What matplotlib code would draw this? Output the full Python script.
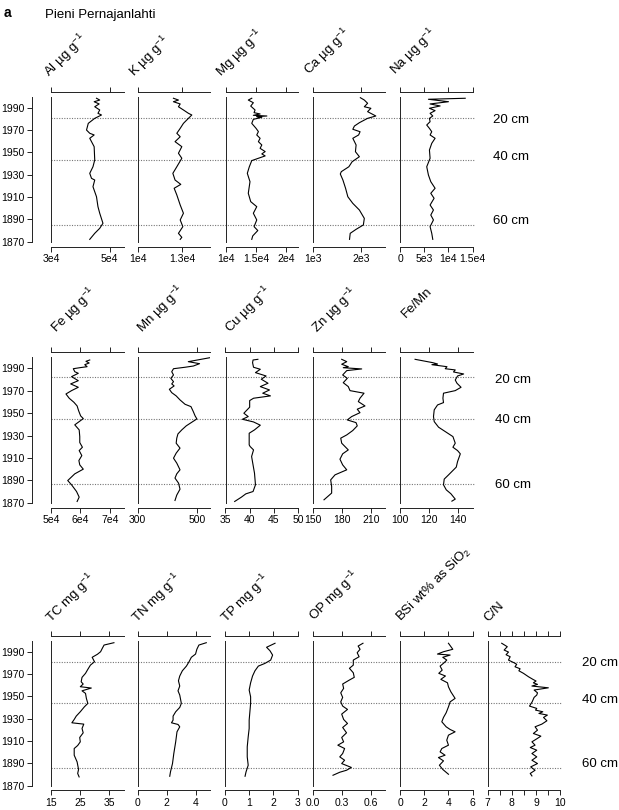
import matplotlib
matplotlib.use('Agg')
import matplotlib.pyplot as plt

plt.rcParams['font.family'] = ['Liberation Sans', 'DejaVu Sans']
plt.rcParams['mathtext.fontset'] = 'custom'
plt.rcParams['mathtext.rm'] = 'Liberation Sans'
plt.rcParams['mathtext.it'] = 'Liberation Sans:italic'
plt.rcParams['mathtext.bf'] = 'Liberation Sans:bold'

# ---------------- data ----------------
YEAR_TICKS = [1870, 1890, 1910, 1930, 1950, 1970, 1990]
DEPTH_LABELS = ['20 cm', '40 cm', '60 cm']
DEPTH_YEARS_R1 = [1981.2, 1943.3, 1885.0]
DEPTH_YEARS_R2 = [1982.1, 1944.9, 1886.9]
DEPTH_YEARS_R3 = [1981.1, 1943.7, 1885.3]

AL_YEARS = [1998.6, 1997.0, 1995.5, 1993.5, 1991.0, 1988.1, 1985.1, 1983.6, 1980.6, 1976.1, 1970.1, 1967.2, 1965.7, 1962.7,
            1955.2, 1943.3, 1937.2, 1931.3, 1926.8, 1925.3, 1919.3, 1910.3, 1901.4, 1895.5, 1886.5, 1882.0, 1877.5, 1872.1]
AL = [45500, 46600, 44700, 46400, 44900, 46600, 46000, 47200, 44900, 42700, 42100, 43200, 44700, 43200,
      44700, 44900, 44300, 43200, 43800, 44900, 44300, 45500, 46000, 46600, 47700, 46600, 44900, 43200]

K_YEARS = [1998.6, 1997.0, 1995.5, 1993.5, 1991.0, 1988.1, 1985.1, 1983.6, 1980.6, 1976.1, 1971.6, 1967.2, 1964.1, 1959.7,
           1955.2, 1949.3, 1944.8, 1937.2, 1931.3, 1925.3, 1921.4, 1917.9, 1911.9, 1902.9, 1895.5, 1889.5, 1883.5, 1877.5,
           1873.9, 1872.1]
K = [12430, 12770, 12430, 12890, 12770, 13110, 13450, 13680, 13450, 13110, 12890, 12660, 12890, 12540,
     13000, 12770, 13000, 12660, 12390, 12540, 12930, 12480, 12660, 12890, 13110, 12890, 13070, 12770, 13000, 12890]

MG_YEARS = [1998.6, 1997.0, 1994.6, 1991.6, 1988.1, 1985.7, 1984.5, 1983.3, 1982.7, 1982.1, 1981.5, 1979.7, 1976.1, 1971.6,
            1968.7, 1965.7, 1962.7, 1959.7, 1956.7, 1953.7, 1950.8, 1948.7, 1946.9, 1944.8, 1942.7, 1937.2, 1931.3, 1923.8,
            1913.4, 1905.9, 1901.4, 1895.5, 1889.5, 1883.5, 1880.0, 1875.2, 1872.1]
MG = [14310, 13740, 14570, 14140, 14850, 14690, 15680, 14570, 16790, 15130, 15960, 14570, 14310, 15020,
      15400, 15130, 15680, 15400, 15960, 15680, 16510, 15960, 16510, 15400, 14310, 13910, 13580, 14020,
      13740, 14140, 15130, 14570, 15130, 14690, 15300, 14470, 14310]

CA_YEARS = [1999.1, 1997.0, 1994.1, 1991.0, 1989.6, 1986.6, 1982.7, 1980.6, 1976.7, 1973.7, 1970.8, 1968.6, 1965.7, 1962.7,
            1956.7, 1950.7, 1946.2, 1941.7, 1937.2, 1932.8, 1930.7, 1925.3, 1917.9, 1910.3, 1904.4, 1898.4, 1890.9, 1885.0,
            1881.1, 1877.5, 1872.1]
CA = [1986, 2068, 2136, 2068, 2204, 2136, 2306, 2136, 1966, 1863, 1830, 1980, 1950, 1830,
      1898, 1884, 1966, 1816, 1748, 1592, 1571, 1625, 1680, 1727, 1829, 1966, 2068, 2048, 1898, 1776, 1762]

NA_YEARS = [1998.6, 1997.7, 1995.5, 1993.5, 1991.7, 1989.6, 1987.5, 1985.1, 1982.7, 1980.6, 1977.6, 1974.6, 1971.6, 1968.6,
            1965.7, 1962.7, 1958.2, 1952.2, 1944.8, 1937.2, 1929.8, 1923.8, 1917.9, 1913.4, 1908.9, 1902.9, 1898.4, 1893.9,
            1889.5, 1883.5, 1877.5, 1872.1]
NA = [13490, 5880, 10030, 6225, 8300, 6090, 7260, 6225, 6780, 6090, 6225, 5530, 6090, 6570,
      6225, 7260, 6570, 6090, 6225, 5530, 5880, 6370, 7260, 6370, 7055, 6225, 6920, 6370, 6920, 6225, 6570, 6780]

FE_YEARS = [1997.6, 1996.4, 1994.9, 1993.4, 1991.6, 1990.7, 1989.8, 1987.1, 1985.7, 1982.7, 1979.1, 1976.2, 1973.2, 1970.2,
            1967.2, 1963.4, 1959.8, 1956.5, 1952.3, 1947.6, 1945.2, 1942.5, 1939.6, 1935.1, 1929.1, 1923.8, 1919.6, 1916.6,
            1912.1, 1907.7, 1903.8, 1900.0, 1895.8, 1889.8, 1886.0, 1880.0, 1875.0, 1871.1]
FE = [63200, 61900, 63000, 61500, 62300, 59800, 57600, 58100, 59300, 57000, 59300, 56700, 59300, 57000,
      55100, 56200, 57800, 58900, 59400, 60100, 61000, 59600, 58100, 59600, 59800, 59800, 60700, 59600,
      60500, 59500, 59800, 61000, 58100, 55700, 57000, 58700, 59600, 58900]

MN_YEARS = [1999.7, 1996.1, 1994.3, 1992.2, 1991.1, 1989.8, 1987.1, 1984.2, 1981.2, 1978.2, 1976.2, 1974.4, 1971.4, 1968.4,
            1965.5, 1961.9, 1958.0, 1955.9, 1951.4, 1947.6, 1944.9, 1942.5, 1938.7, 1935.1, 1931.5, 1927.7, 1923.2, 1918.8,
            1914.3, 1909.8, 1905.4, 1899.4, 1895.8, 1892.0, 1887.5, 1882.1, 1876.8, 1872.0]
MN = [545, 471, 509, 488, 460, 421, 415, 421, 412, 421, 415, 423, 407, 415,
      430, 443, 460, 480, 488, 494, 500, 486, 464, 449, 436, 432, 430, 443,
      430, 421, 432, 443, 432, 426, 438, 443, 432, 426]

CU_YEARS = [1998.2, 1997.6, 1995.2, 1991.1, 1989.3, 1986.3, 1983.3, 1980.4, 1976.8, 1973.8, 1970.8, 1967.9, 1965.5, 1963.4,
            1961.3, 1955.4, 1950.0, 1947.0, 1944.6, 1942.2, 1939.3, 1935.1, 1932.1, 1921.7, 1920.2, 1917.2, 1911.3, 1903.8,
            1896.4, 1886.0, 1880.0, 1877.9, 1875.0, 1871.1]
CU = [41.7, 40.7, 40.6, 40.8, 42.2, 41.2, 43.4, 42.4, 43.8, 42.2, 44.1, 42.7, 44.3, 40.8,
      40.0, 40.0, 38.8, 39.7, 38.5, 40.8, 42.2, 41.0, 39.9, 39.9, 40.1, 40.8, 40.4, 40.7,
      41.0, 41.2, 40.7, 39.2, 38.3, 36.9]

ZN_YEARS = [1998.2, 1996.1, 1993.8, 1991.6, 1990.7, 1989.6, 1988.1, 1984.2, 1981.2, 1977.3, 1973.8, 1970.2, 1967.9, 1963.4,
            1960.4, 1956.5, 1953.6, 1950.5, 1947.0, 1944.0, 1941.6, 1938.7, 1934.5, 1930.6, 1927.7, 1923.2, 1917.2, 1913.7,
            1908.9, 1903.8, 1899.4, 1894.9, 1890.4, 1884.5, 1878.6, 1872.6]
ZN = [180, 185.2, 180, 186.8, 181.6, 200.7, 185.2, 181, 185.8, 181.6, 186.8, 188.6, 203.1, 198.9,
      197.2, 204.1, 196.1, 198.9, 190.3, 185.8, 194.8, 196.1, 191.4, 185.2, 179, 180, 186.8, 181,
      178.2, 181, 185.2, 173.1, 168.6, 169.6, 169.6, 161.7]

FEMN_YEARS = [1998.2, 1995.2, 1994.0, 1993.4, 1991.6, 1989.8, 1988.7, 1986.9, 1985.1, 1983.3, 1979.7, 1976.8, 1973.2, 1970.2,
              1967.9, 1963.4, 1959.5, 1957.4, 1953.0, 1947.0, 1942.5, 1937.5, 1933.6, 1929.1, 1923.2, 1919.6, 1916.6, 1913.7,
              1906.8, 1901.8, 1897.9, 1894.9, 1891.1, 1886.0, 1881.5, 1878.0, 1873.2, 1871.4]
FEMN = [110.4, 122.6, 125.9, 122, 132.4, 131.2, 138.1, 136.9, 143.9, 139.7, 138.1, 139.3, 142.1, 138.1,
        130, 129.6, 130, 125.9, 123.6, 123.1, 123.6, 126.6, 131.2, 136.5, 138.1, 136.5, 139.7, 141.6,
        139.7, 138.8, 135.8, 133.5, 130.5, 130, 131.9, 135.1, 138.1, 135.8]

TC_YEARS = [1998.2, 1996.1, 1993.2, 1990.1, 1987.8, 1985.1, 1981.1, 1978.1, 1974.3, 1970.7, 1967.1, 1963.1, 1961.1, 1958.7,
            1957.5, 1955.0, 1952.7, 1948.2, 1943.7, 1940.6, 1936.2, 1932.3, 1929.3, 1926.3, 1925.1, 1921.2, 1917.3, 1913.1,
            1909.2, 1905.9, 1903.2, 1897.2, 1891.2, 1884.4, 1880.8, 1877.7]
TC = [36.7, 33.3, 32.7, 32.1, 31.0, 29.2, 30.0, 28.6, 27.7, 26.9, 25.7, 25.4, 26.1, 25.1,
      28.9, 25.7, 26.9, 27.2, 27.7, 26.5, 25.1, 23.7, 23.0, 22.2, 26.3, 25.7, 26.1, 24.9,
      25.1, 24.2, 23.0, 23.0, 24.0, 24.5, 24.2, 24.7]

TN_YEARS = [1998.2, 1996.1, 1992.3, 1988.0, 1985.1, 1981.1, 1977.2, 1973.0, 1968.3, 1964.0, 1959.3, 1955.0, 1951.2, 1943.7,
            1940.1, 1936.2, 1932.3, 1928.7, 1926.3, 1924.8, 1922.7, 1918.2, 1909.2, 1898.7, 1889.7, 1882.2, 1878.3]
TN = [4.73, 4.22, 4.08, 3.99, 3.70, 3.54, 3.36, 3.08, 2.90, 2.81, 2.90, 2.78, 2.90, 3.01,
      2.90, 2.62, 2.44, 2.44, 2.33, 2.78, 2.90, 2.71, 2.62, 2.49, 2.40, 2.26, 2.21]

TP_YEARS = [1997.7, 1994.1, 1991.0, 1987.1, 1982.6, 1979.6, 1977.2, 1973.0, 1968.3, 1962.2, 1955.7, 1949.6, 1943.7, 1936.2,
            1928.7, 1921.2, 1913.7, 1904.7, 1895.7, 1888.2, 1882.2, 1878.3]
TP = [2.07, 1.72, 1.86, 1.97, 1.89, 1.65, 1.38, 1.24, 1.14, 1.06, 1.0, 1.06, 1.06, 1.03,
      1.0, 1.0, 0.96, 0.92, 0.92, 0.96, 0.87, 0.83]

OP_YEARS = [1997.7, 1995.2, 1992.3, 1989.2, 1985.6, 1982.6, 1978.1, 1975.2, 1971.2, 1967.1, 1964.7, 1961.1, 1957.2, 1953.2,
            1949.1, 1945.1, 1941.3, 1938.3, 1934.1, 1929.3, 1925.7, 1922.1, 1917.3, 1913.1, 1909.2, 1906.2, 1903.2, 1898.7,
            1895.7, 1892.7, 1889.7, 1886.2, 1883.7, 1881.9, 1879.2]
OP = [0.52, 0.47, 0.49, 0.46, 0.48, 0.42, 0.42, 0.38, 0.42, 0.43, 0.38, 0.31, 0.32, 0.29,
      0.31, 0.29, 0.31, 0.36, 0.30, 0.32, 0.36, 0.31, 0.35, 0.30, 0.32, 0.26, 0.33, 0.31,
      0.28, 0.33, 0.30, 0.40, 0.35, 0.28, 0.21]

BSI_YEARS = [1997.7, 1992.3, 1990.1, 1988.0, 1987.1, 1985.1, 1982.6, 1980.2, 1977.2, 1973.6, 1970.7, 1968.3, 1965.3, 1962.2,
             1958.6, 1954.1, 1948.2, 1945.1, 1940.6, 1935.3, 1931.1, 1927.2, 1922.7, 1920.3, 1918.2, 1915.2, 1910.7, 1906.2,
             1903.2, 1900.2, 1897.2, 1895.1, 1892.1, 1888.2, 1884.4, 1880.1]
BSI = [4.01, 4.37, 3.60, 3.10, 4.15, 3.54, 3.87, 3.65, 3.32, 3.49, 3.21, 3.76, 3.38, 3.93,
       4.01, 4.21, 4.56, 4.15, 4.01, 3.82, 3.60, 3.46, 3.82, 4.15, 4.56, 4.01, 3.87, 4.01,
       3.46, 3.32, 3.73, 3.18, 3.60, 3.26, 3.54, 4.01]

CN_YEARS = [1997.7, 1994.6, 1991.6, 1989.8, 1987.4, 1985.6, 1982.6, 1980.2, 1978.8, 1976.6, 1974.8, 1973.0, 1970.7, 1967.6,
            1965.3, 1963.8, 1962.2, 1960.8, 1959.3, 1957.7, 1955.7, 1953.2, 1951.2, 1949.1, 1945.1, 1941.3, 1939.2, 1937.7,
            1936.2, 1934.7, 1933.2, 1931.1, 1928.1, 1925.1, 1922.7, 1919.7, 1916.7, 1914.3, 1911.9, 1909.2, 1906.2, 1904.1,
            1901.7, 1898.7, 1895.7, 1892.7, 1889.7, 1886.7, 1883.7, 1880.8, 1878.6]
CN = [7.58, 7.81, 7.68, 7.86, 7.76, 7.93, 7.86, 8.09, 8.20, 8.13, 8.34, 8.29, 8.48, 8.69,
      8.87, 9.00, 8.89, 9.06, 8.83, 9.51, 8.92, 9.06, 9.03, 8.92, 8.84, 8.73, 9.03, 8.98,
      9.28, 9.12, 9.47, 9.31, 9.45, 9.24, 8.96, 9.06, 8.89, 9.20, 9.03, 8.83, 8.96, 8.76,
      9.03, 8.83, 9.03, 8.83, 9.06, 8.78, 8.96, 8.76, 8.83]

UG = r' µg g$^{-1}$'
MG_ = r' mg g$^{-1}$'
ROW1 = [
    ('Al' + UG, AL_YEARS, AL, (3e4, 5.47e4), [3e4, 5e4], ['3e4', '5e4']),
    ('K' + UG, K_YEARS, K, (1e4, 1.493e4), [1e4, 1.3e4], ['1e4', '1.3e4']),
    ('Mg' + UG, MG_YEARS, MG, (1e4, 2.19e4), [1e4, 1.5e4, 2e4], ['1e4', '1.5e4', '2e4']),
    ('Ca' + UG, CA_YEARS, CA, (1e3, 2.5e3), [1e3, 2e3], ['1e3', '2e3']),
    ('Na' + UG, NA_YEARS, NA, (0, 1.5e4), [0, 5e3, 1e4, 1.5e4], ['0', '5e3', '1e4', '1.5e4']),
]
ROW2 = [
    ('Fe' + UG, FE_YEARS, FE, (5e4, 7.47e4), [5e4, 6e4, 7e4], ['5e4', '6e4', '7e4']),
    ('Mn' + UG, MN_YEARS, MN, (300, 545), [300, 500], ['300', '500']),
    ('Cu' + UG, CU_YEARS, CU, (35, 50), [35, 40, 45, 50], ['35', '40', '45', '50']),
    ('Zn' + UG, ZN_YEARS, ZN, (150, 225), [150, 180, 210], ['150', '180', '210']),
    ('Fe/Mn', FEMN_YEARS, FEMN, (100, 150), [100, 120, 140], ['100', '120', '140']),
]
ROW3 = [
    ('TC' + MG_, TC_YEARS, TC, (15, 40), [15, 25, 35], ['15', '25', '35']),
    ('TN' + MG_, TN_YEARS, TN, (0, 5), [0, 2, 4], ['0', '2', '4']),
    ('TP' + MG_, TP_YEARS, TP, (0, 3), [0, 1, 2, 3], ['0', '1', '2', '3']),
    ('OP' + MG_, OP_YEARS, OP, (0, 0.75), [0, 0.3, 0.6], ['0.0', '0.3', '0.6']),
    (r'BSi wt% as SiO$_2$', BSI_YEARS, BSI, (0, 6), [0, 2, 4, 6], ['0', '2', '4', '6']),
    ('C/N', CN_YEARS, CN, (7, 10), [7, 7.5, 8, 8.5, 9, 9.5, 10], ['7', '', '8', '', '9', '', '10']),
]

# ---------------- layout ----------------
W, H = 619, 810
fig = plt.figure(figsize=(W / 100, H / 100), dpi=100)
INK = '#222222'
PW = 72.5


def rect(x0, y0, x1, y1):
    return [x0 / W, 1 - y1 / H, (x1 - x0) / W, (y1 - y0) / H]


def year_axis(ytop, ybot):
    ax = fig.add_axes(rect(32, ytop, 33, ybot))
    ax.set_ylim(1870, 2000)
    ax.set_xticks([])
    for s in ['top', 'right', 'bottom']:
        ax.spines[s].set_visible(False)
    ax.spines['left'].set_color(INK)
    ax.spines['left'].set_linewidth(0.7)
    ax.set_yticks(YEAR_TICKS)
    ax.tick_params(axis='y', length=3.5, width=0.7, color=INK, labelsize=7.5, pad=2)
    ax.patch.set_visible(False)


def guide_lines(x0, x1, ytop, ybot, years):
    ax = fig.add_axes(rect(x0, ytop, x1, ybot))
    ax.set_ylim(1870, 2000)
    ax.set_xlim(0, 1)
    ax.axis('off')
    for yv in years:
        ax.axhline(yv, color='#777777', lw=0.8, ls=(0, (1, 1.3)))


def panel(x0, ytop, ybot, spec, label_xy):
    label, yrs, vals, xlim, ticks, tlabels = spec
    ax = fig.add_axes(rect(x0, ytop, x0 + PW, ybot))
    ax.plot(vals, yrs, color='black', lw=0.8)
    ax.set_xlim(*xlim)
    ax.set_ylim(1870, 2000)
    ax.spines['right'].set_visible(False)
    for s in ['top', 'bottom']:
        ax.spines[s].set_position(('outward', 3.5))
    for s in ['top', 'bottom', 'left']:
        ax.spines[s].set_color(INK)
        ax.spines[s].set_linewidth(0.7)
    ax.set_yticks([])
    ax.set_xticks(ticks)
    ax.set_xticklabels(tlabels)
    ax.tick_params(axis='x', top=True, bottom=True, labeltop=False, labelbottom=True,
                   direction='out', length=3.5, width=0.7, color=INK, labelsize=7.5, pad=2)
    ax.patch.set_visible(False)
    lx, ly = label_xy
    fig.text(lx / W, 1 - ly / H, label, rotation=45, rotation_mode='anchor',
             ha='left', va='baseline', fontsize=9.5)


def depth_labels(x, ys):
    for t, yv in zip(DEPTH_LABELS, ys):
        fig.text(x / W, 1 - yv / H, t, ha='left', va='center', fontsize=9.5)


fig.text(4 / W, 1 - 17 / H, 'a', fontsize=10, fontweight='bold', ha='left', va='baseline')
fig.text(45 / W, 1 - 18 / H, 'Pieni Pernajanlahti', fontsize=9.5, ha='left', va='baseline')

# Row 1
r1_top, r1_bot = 96.7, 241.7
r1_x = [51, 137.7, 225.5, 312.7, 400]
r1_lab = [(49.5, 77), (134.5, 77), (221.5, 77), (309.5, 75), (395.5, 75)]
guide_lines(51, 475, r1_top, r1_bot, DEPTH_YEARS_R1)
year_axis(r1_top, r1_bot)
for x0, spec, lxy in zip(r1_x, ROW1, r1_lab):
    panel(x0, r1_top, r1_bot, spec, lxy)
depth_labels(493, [120, 157, 221])

# Row 2
r2_top, r2_bot = 357.3, 502.7
r2_x = [51, 137.7, 225.5, 312.7, 400]
r2_lab = [(56, 333), (142.5, 333), (230, 333), (317.5, 333), (406, 318)]
guide_lines(51, 475, r2_top, r2_bot, DEPTH_YEARS_R2)
year_axis(r2_top, r2_bot)
for x0, spec, lxy in zip(r2_x, ROW2, r2_lab):
    panel(x0, r2_top, r2_bot, spec, lxy)
depth_labels(495, [380, 420, 485])

# Row 3
r3_top, r3_bot = 640.7, 785.5
r3_x = [51, 137.7, 225, 312.7, 400, 487.7]
r3_lab = [(51, 623), (137.5, 623), (226, 623), (314, 621.7), (401, 621.7), (488.5, 621.7)]
guide_lines(51, 562, r3_top, r3_bot, DEPTH_YEARS_R3)
year_axis(r3_top, r3_bot)
for x0, spec, lxy in zip(r3_x, ROW3, r3_lab):
    panel(x0, r3_top, r3_bot, spec, lxy)
depth_labels(582, [663, 700, 764])

fig.savefig('out.png', dpi=100)
